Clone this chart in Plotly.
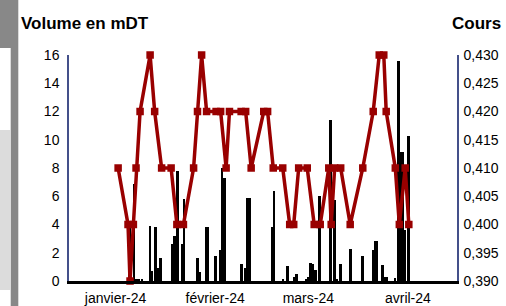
import plotly.graph_objects as go

# ---- data ----
month_ticks = ["2024-01-01", "2024-02-01", "2024-03-01", "2024-04-01"]
month_labels = ["janvier-24", "février-24", "mars-24", "avril-24"]

cours_dates = [
    "2024-01-01 19:00", "2024-01-04 21:00", "2024-01-05 12:00", "2024-01-06 13:00",
    "2024-01-07 09:00", "2024-01-08 15:00", "2024-01-11 18:00", "2024-01-13 04:00",
    "2024-01-15 08:00", "2024-01-18 07:00", "2024-01-20 02:00", "2024-01-22 03:00",
    "2024-01-25 07:00", "2024-01-26 12:00", "2024-01-27 19:00", "2024-01-29 08:00",
    "2024-02-01 07:00", "2024-02-02 17:00", "2024-02-04 10:00", "2024-02-05 11:00",
    "2024-02-09 02:00", "2024-02-10 12:00", "2024-02-12 05:00", "2024-02-16 03:00",
    "2024-02-17 08:00", "2024-02-19 02:00", "2024-02-22 01:00", "2024-02-24 05:00",
    "2024-02-25 11:00", "2024-02-27 00:00", "2024-02-29 16:00", "2024-03-02 20:00",
    "2024-03-04 17:00", "2024-03-07 09:00", "2024-03-08 03:00", "2024-03-09 05:00",
    "2024-03-11 02:00", "2024-03-14 01:00", "2024-03-17 23:00", "2024-03-21 05:00",
    "2024-03-23 02:00", "2024-03-24 12:00", "2024-03-25 06:00", "2024-03-28 02:00",
    "2024-03-29 08:00", "2024-03-31 04:00", "2024-04-01 07:00",
]
cours_values = [
    0.41, 0.40, 0.39, 0.40, 0.41, 0.42, 0.43, 0.42, 0.41, 0.41, 0.40, 0.40,
    0.41, 0.42, 0.43, 0.42, 0.42, 0.42, 0.41, 0.42, 0.42, 0.42, 0.41, 0.42,
    0.42, 0.41, 0.41, 0.40, 0.40, 0.41, 0.41, 0.40, 0.40, 0.41, 0.40, 0.41,
    0.41, 0.40, 0.41, 0.42, 0.43, 0.43, 0.42, 0.41, 0.40, 0.41, 0.40,
]

volume_dates = [
    "2024-01-05 10:00", "2024-01-06 20:00", "2024-01-07 13:00", "2024-01-08 08:00",
    "2024-01-09 06:00", "2024-01-11 18:00", "2024-01-12 07:00", "2024-01-13 13:00",
    "2024-01-14 06:00", "2024-01-15 03:00", "2024-01-18 14:00", "2024-01-19 09:00",
    "2024-01-20 07:00", "2024-01-21 19:00", "2024-01-22 10:00", "2024-01-26 13:00",
    "2024-01-27 04:00", "2024-01-29 05:00", "2024-01-29 18:00", "2024-02-01 06:00",
    "2024-02-02 15:00", "2024-02-03 06:00", "2024-02-04 01:00", "2024-02-09 08:00",
    "2024-02-10 14:00", "2024-02-11 05:00", "2024-02-11 19:00", "2024-02-18 17:00",
    "2024-02-19 08:00", "2024-02-22 04:00", "2024-02-23 15:00", "2024-02-25 16:00",
    "2024-02-26 09:00", "2024-02-29 08:00", "2024-03-01 03:00", "2024-03-01 19:00",
    "2024-03-02 13:00", "2024-03-03 07:00", "2024-03-04 15:00", "2024-03-08 00:00",
    "2024-03-09 06:00", "2024-03-09 20:00", "2024-03-11 03:00", "2024-03-14 06:00",
    "2024-03-17 23:00", "2024-03-21 04:00", "2024-03-21 19:00", "2024-03-22 08:00",
    "2024-03-24 04:00", "2024-03-24 19:00", "2024-03-25 10:00", "2024-03-28 02:00",
    "2024-03-29 05:00", "2024-03-29 20:00", "2024-03-30 11:00", "2024-03-31 01:00",
    "2024-04-01 07:00",
]
volume_values = [
    4.0, 6.9, 0.15, 0.1, 0.1, 3.9, 0.7, 3.8, 0.95, 1.6, 2.6, 3.2,
    7.8, 2.6, 5.8, 1.6, 0.65, 3.85, 3.85, 1.8, 2.2, 8.0, 7.3, 1.2,
    0.9, 5.85, 5.85, 3.85, 6.4, 0.1, 1.06, 0.3, 0.5, 0.1, 0.3, 1.25,
    1.2, 0.75, 6.0, 11.4, 5.7, 0.1, 1.2, 2.3, 1.77, 2.2, 2.8, 2.8,
    1.1, 0.25, 0.25, 0.2, 15.6, 9.15, 9.15, 3.6, 10.3,
]

# ---- figure ----
W, H = 506, 306
L, R, T, B = 69, 49, 55, 25
pw, ph = W - L - R, H - T - B


def px(x):
    return (x - L) / pw


def py(y):
    return (H - B - y) / ph


FONT = "Liberation Sans, Arial, sans-serif"
RED = "#990000"
AXIS_BLUE = "#44508a"

fig = go.Figure()
fig.add_trace(go.Bar(
    x=volume_dates, y=volume_values, yaxis="y",
    marker=dict(color="black", line=dict(width=0)),
    width=0.6 * 86400000, name="Volume",
))
fig.add_trace(go.Scatter(
    x=cours_dates, y=cours_values, yaxis="y2", mode="lines+markers",
    line=dict(color=RED, width=3.5),
    marker=dict(symbol="square", size=7.5, color=RED),
    cliponaxis=False, name="Cours",
))

fig.update_layout(
    width=W, height=H,
    margin=dict(l=L, r=R, t=T, b=B, pad=0, autoexpand=False),
    paper_bgcolor="white", plot_bgcolor="white",
    showlegend=False,
    separators=", ",
    font=dict(family=FONT, size=14, color="black"),
    xaxis=dict(
        type="date", range=["2023-12-17 12:00", "2024-04-16 07:00"],
        tickvals=month_ticks, ticktext=month_labels,
        showgrid=False, zeroline=False, showline=True,
        linecolor="black", linewidth=3, ticks="",
        tickfont=dict(size=14), ticklabelstandoff=2, automargin=False,
    ),
    yaxis=dict(
        range=[0, 16], dtick=2, showgrid=False, zeroline=False,
        showline=True, linecolor=AXIS_BLUE, linewidth=1.5, ticks="",
        tickfont=dict(size=14), ticklabelstandoff=5, automargin=False,
    ),
    yaxis2=dict(
        range=[0.39, 0.43], dtick=0.005, tickformat=".3f",
        overlaying="y", side="right", showgrid=False, zeroline=False,
        showline=True, linecolor=AXIS_BLUE, linewidth=1.5, ticks="",
        tickfont=dict(size=14), ticklabelstandoff=2, automargin=False,
    ),
    bargap=0,
)

fig.add_annotation(
    text="<b>Volume en mDT</b>", xref="paper", yref="paper",
    x=px(19), y=py(23), xanchor="left", yanchor="middle",
    showarrow=False, font=dict(size=17, family=FONT),
)
fig.add_annotation(
    text="<b>Cours</b>", xref="paper", yref="paper",
    x=px(503), y=py(23), xanchor="right", yanchor="middle",
    showarrow=False, font=dict(size=17, family=FONT),
)

# page-edge decoration visible at the left of the reference
fig.add_shape(type="rect", xref="paper", yref="paper",
              x0=px(0), x1=px(18.3), y0=py(48), y1=py(0),
              fillcolor="#888888", line=dict(width=0), layer="below")
fig.add_shape(type="rect", xref="paper", yref="paper",
              x0=px(10.7), x1=px(18.3), y0=py(306), y1=py(48),
              fillcolor="#888888", line=dict(width=0), layer="below")
fig.add_shape(type="rect", xref="paper", yref="paper",
              x0=px(0), x1=px(10.7), y0=py(290), y1=py(130),
              fillcolor="#dcdcdc", line=dict(width=0), layer="below")

fig.write_html(
    "out.html",
    config={"displayModeBar": False},
    post_script="document.body.style.margin='0';document.body.style.overflow='hidden';",
)
